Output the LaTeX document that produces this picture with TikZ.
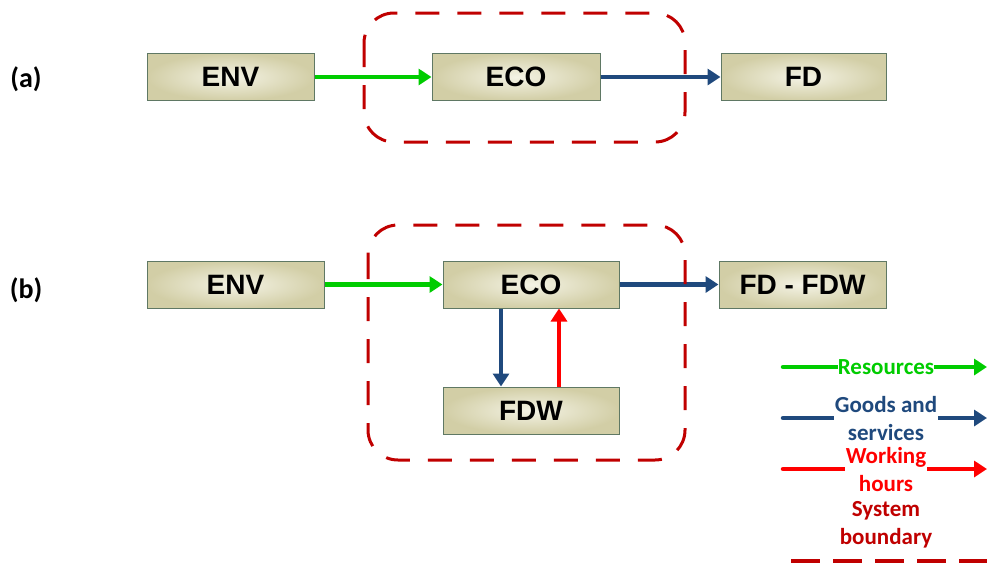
\documentclass[tikz,border=0pt]{standalone}
\usepackage{fontspec}
\setsansfont{Liberation Sans}
\newfontfamily\calib{Carlito}
\usetikzlibrary{arrows.meta}
\definecolor{boxin}{RGB}{244,243,229}
\definecolor{boxout}{RGB}{210,206,166}
\definecolor{boxline}{RGB}{95,120,100}
\definecolor{resgreen}{RGB}{0,204,0}
\definecolor{goodblue}{RGB}{31,73,125}
\definecolor{workred}{RGB}{255,0,0}
\definecolor{bndred}{RGB}{192,0,0}
\begin{document}
\begin{tikzpicture}[x=1pt,y=-1pt,
  blk/.style={draw=boxline, line width=1pt, inner color=boxin, outer color=boxout,
    minimum height=47pt, font=\sffamily\bfseries\fontsize{28}{32}\selectfont, inner sep=0pt},
  flow/.style={line width=4.5pt, -{Triangle[length=13pt,width=16pt]}},
  resf/.style={flow, draw=resgreen},
  goodf/.style={flow, draw=goodblue},
  workf/.style={flow, draw=workred},
  bound/.style={draw=bndred, line width=3pt, dash pattern=on 24pt off 18pt, rounded corners=30pt},
  lgtext/.style={font=\calib\bfseries\fontsize{23}{28}\selectfont, fill=white, inner sep=0pt, align=center},
  tag/.style={font=\calib\bfseries\fontsize{28}{32}\selectfont}
]
\useasboundingbox (0,0) rectangle (987,563);
% (a)
\node[tag] (la) at (26,79) {(a)};
\node[blk, minimum width=167pt] (envA) at (230.5,77) {ENV};
\node[blk, minimum width=168pt] (ecoA) at (516,77) {ECO};
\node[blk, minimum width=165pt] (fdA) at (803.5,77) {FD};
\draw[resf] (envA) -- (ecoA);
\draw[goodf] (ecoA) -- (fdA);
\draw[bound] (364,13) rectangle (685,142);
% (b)
\node[tag] (lb) at (26,290) {(b)};
\node[blk, minimum width=177pt] (envB) at (235.5,284.5) {ENV};
\node[blk, minimum width=176pt] (ecoB) at (531,284.5) {ECO};
\node[blk, minimum width=167pt] (fdB) at (802.5,284.5) {FD - FDW};
\node[blk, minimum width=176pt] (fdw) at (531,410.5) {FDW};
\draw[resf] (envB) -- (ecoB);
\draw[goodf] (ecoB) -- (fdB);
\draw[goodf] (ecoB.south -| 501,0) -- (fdw.north -| 501,0);
\draw[workf] (fdw.north -| 559,0) -- (ecoB.south -| 559,0);
\draw[bound] (368,225) rectangle (685,460);
% legend
\coordinate (g1) at (783,367); \coordinate (g2) at (987,367);
\draw[resf, line cap=round] (g1) -- (g2);
\node[lgtext, text=resgreen] (lres) at (886,367) {Resources};
\coordinate (b1) at (783,418); \coordinate (b2) at (987,418);
\draw[goodf, line cap=round] (b1) -- (b2);
\node[lgtext, text=goodblue, inner xsep=1pt] (lgood) at (886,419) {Goods and\\services};
\coordinate (r1) at (783,469); \coordinate (r2) at (987,469);
\draw[workf, line cap=round] (r1) -- (r2);
\node[lgtext, text=workred, inner xsep=1pt] (lwork) at (886,470) {Working\\hours};
\node[lgtext, text=bndred] (lbnd) at (886,525) {System\\boundary};
\coordinate (d1) at (791,561); \coordinate (d2) at (990,561);
\draw[draw=bndred, line width=3.5pt, dash pattern=on 29pt off 13pt] (d1) -- (d2);
\end{tikzpicture}
\end{document}
